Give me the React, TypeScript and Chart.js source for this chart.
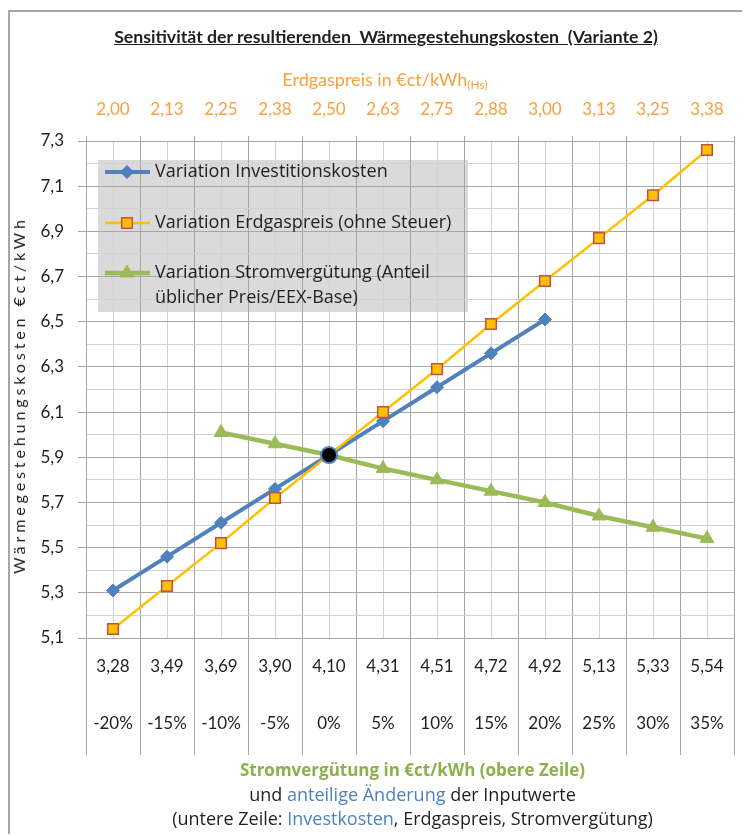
import React, { useEffect, useRef } from 'react';
import { Chart, registerables } from 'chart.js';
import { drawPoint } from 'chart.js/helpers';

Chart.register(...registerables);

// ---------- data ----------
const changeLabels = ['-20%', '-15%', '-10%', '-5%', '0%', '5%', '10%', '15%', '20%', '25%', '30%', '35%'];
const stromLabels = ['3,28', '3,49', '3,69', '3,90', '4,10', '4,31', '4,51', '4,72', '4,92', '5,13', '5,33', '5,54'];
const gasLabels = ['2,00', '2,13', '2,25', '2,38', '2,50', '2,63', '2,75', '2,88', '3,00', '3,13', '3,25', '3,38'];

const investValues: (number | null)[] = [5.31, 5.46, 5.61, 5.76, 5.91, 6.06, 6.21, 6.36, 6.51];
const gasValues: (number | null)[] = [5.14, 5.33, 5.52, 5.72, 5.91, 6.10, 6.29, 6.49, 6.68, 6.87, 7.06, 7.26];
const stromValues: (number | null)[] = [null, null, 6.01, 5.96, 5.91, 5.85, 5.80, 5.75, 5.70, 5.64, 5.59, 5.54];

const baseIndex = 4;
const baseValue = 5.91;

const seriesLabels = [
  'Variation Investitionskosten',
  'Variation Erdgaspreis (ohne Steuer)',
  'Variation Stromvergütung (Anteil\nüblicher Preis/EEX-Base)',
];

const yMin = 5.1;
const yMax = 7.3;

// ---------- helpers ----------
const toPoints = (vals: (number | null)[]) =>
  vals.map((v, i) => ({ x: i, y: v })).filter((p) => p.y !== null) as { x: number; y: number }[];

const isHalf = (v: any) => typeof v === 'number' && Math.abs(v - Math.round(v)) > 0.25;
const isMajorY = (v: any) => typeof v === 'number' && Math.abs(Math.round(v * 10)) % 2 === 1;

const MAJOR = '#a6a6a6';
const MINOR = '#d2d2d2';
const ORANGE = '#F7A23D';
const TEXT = '#1f1f1f';

const legendPlugin = {
  id: 'insideLegend',
  beforeDraw(chart: any) {
    const { ctx, chartArea: a } = chart;
    ctx.save();
    ctx.fillStyle = '#dadada';
    ctx.fillRect(a.left + 12, a.top + 19, 370, 152);
    ctx.restore();
  },
  afterDraw(chart: any) {
    const { ctx, chartArea: a } = chart;
    const rows = [31, 82, 132];
    let r = 0;
    chart.data.datasets.forEach((ds: any) => {
      if (ds.hideInLegend) return;
      const y = a.top + rows[r++];
      ctx.save();
      ctx.strokeStyle = ds.borderColor;
      ctx.lineWidth = ds.borderWidth;
      ctx.beginPath();
      ctx.moveTo(a.left + 19, y);
      ctx.lineTo(a.left + 64, y);
      ctx.stroke();
      ctx.fillStyle = ds.pointBackgroundColor;
      ctx.strokeStyle = ds.pointBorderColor;
      ctx.lineWidth = ds.pointBorderWidth;
      drawPoint(ctx, { pointStyle: ds.pointStyle, radius: ds.pointRadius, borderWidth: ds.pointBorderWidth, rotation: 0 }, a.left + 41, y);
      ctx.fillStyle = TEXT;
      ctx.font = '18px "Open Sans"';
      ctx.textBaseline = 'middle';
      ctx.textAlign = 'left';
      String(ds.label).split('\n').forEach((line: string, i: number) => {
        ctx.fillText(line, a.left + 69, y + i * 25);
      });
      ctx.restore();
    });
  },
};

export default function App() {
  const ref = useRef<HTMLCanvasElement | null>(null);

  useEffect(() => {
    document.body.style.overflow = 'hidden';
    if (!ref.current) return;
    Chart.defaults.font.family = 'Lato';
    const chart = new Chart(ref.current, {
      type: 'line',
      data: {
        datasets: [
          {
            label: 'Basis',
            hideInLegend: true,
            data: [{ x: baseIndex, y: baseValue }],
            showLine: false,
            pointStyle: 'circle',
            pointRadius: 8,
            pointBackgroundColor: '#000000',
            pointBorderColor: '#4F81BD',
            pointBorderWidth: 2,
            order: 0,
          } as any,
          {
            label: seriesLabels[0],
            data: toPoints(investValues),
            borderColor: '#4F81BD',
            borderWidth: 4,
            pointStyle: 'rectRot',
            pointRadius: 6.5,
            pointBackgroundColor: '#4F81BD',
            pointBorderColor: '#4F81BD',
            pointBorderWidth: 1,
            order: 3,
          },
          {
            label: seriesLabels[1],
            data: toPoints(gasValues),
            borderColor: '#FFC000',
            borderWidth: 2.5,
            pointStyle: 'rect',
            pointRadius: 7.5,
            pointBackgroundColor: '#FFC000',
            pointBorderColor: '#C0504D',
            pointBorderWidth: 1.5,
            order: 2,
          },
          {
            label: seriesLabels[2],
            data: toPoints(stromValues),
            borderColor: '#9BBB59',
            borderWidth: 4.5,
            pointStyle: 'triangle',
            pointRadius: 8,
            pointBackgroundColor: '#9BBB59',
            pointBorderColor: '#9BBB59',
            pointBorderWidth: 1,
            order: 1,
          },
        ],
      },
      options: {
        animation: false,
        responsive: false,
        layout: { padding: { left: 0, right: 11, top: 0, bottom: 0 } },
        plugins: { legend: { display: false }, tooltip: { enabled: false } },
        elements: { line: { tension: 0 } },
        scales: {
          x: {
            type: 'linear',
            position: 'bottom',
            min: -0.5,
            max: 11.5,
            afterFit: (s: any) => {
              s.height = 198;
            },
            border: { display: true, color: MAJOR },
            grid: {
              color: (c: any) => (isHalf(c.tick?.value) ? MAJOR : MINOR),
              tickColor: (c: any) => (isHalf(c.tick?.value) ? MAJOR : 'rgba(0,0,0,0)'),
              tickLength: 117,
              lineWidth: 1,
            },
            ticks: {
              stepSize: 0.5,
              autoSkip: false,
              maxRotation: 0,
              minRotation: 0,
              padding: -116.5,
              color: TEXT,
              font: { family: 'Lato', size: 17, lineHeight: '57px' },
              callback: (v: any) => (Number.isInteger(v) ? [stromLabels[v], changeLabels[v]] : ''),
            },
          },
          x2: {
            type: 'linear',
            position: 'top',
            min: -0.5,
            max: 11.5,
            afterFit: (s: any) => {
              s.height = 129;
            },
            border: { display: false },
            grid: {
              drawOnChartArea: false,
              tickLength: 5,
              tickColor: (c: any) => (isHalf(c.tick?.value) ? MAJOR : 'rgba(0,0,0,0)'),
            },
            ticks: {
              stepSize: 0.5,
              autoSkip: false,
              maxRotation: 0,
              minRotation: 0,
              padding: 16,
              color: ORANGE,
              font: { family: 'Lato', size: 17 },
              callback: (v: any) => (Number.isInteger(v) ? gasLabels[v] : ''),
            },
          },
          y: {
            type: 'linear',
            min: yMin,
            max: yMax,
            afterFit: (s: any) => {
              s.width = 76;
            },
            border: { display: true, color: MAJOR },
            grid: {
              color: (c: any) => (isMajorY(c.tick?.value) ? MAJOR : MINOR),
              tickColor: (c: any) => (isMajorY(c.tick?.value) ? MAJOR : 'rgba(0,0,0,0)'),
              tickLength: 8,
            },
            ticks: {
              stepSize: 0.1,
              autoSkip: false,
              padding: 14,
              color: TEXT,
              font: { family: 'Lato', size: 17 },
              callback: (v: any) => (isMajorY(v) ? Number(v).toFixed(1).replace('.', ',') : ''),
            },
          },
        },
      } as any,
      plugins: [legendPlugin],
    });
    return () => chart.destroy();
  }, []);

  const blue = '#4F81BD';
  return (
    <div
      style={{
        position: 'relative',
        top: 2,
        width: 740,
        height: 824,
        borderTop: '2px solid #a6a6a6',
        borderLeft: '2px solid #a6a6a6',
        fontFamily: 'Lato, sans-serif',
        color: TEXT,
      }}
    >
      <canvas ref={ref} width={740} height={824} style={{ display: 'block', width: 740, height: 824 }} />
      <div
        style={{
          position: 'absolute',
          top: 14,
          left: 6,
          width: 740,
          textAlign: 'center',
          fontWeight: 'bold',
          fontSize: 17.7,
          lineHeight: '22px',
          textDecoration: 'underline',
          whiteSpace: 'pre',
        }}
      >
        {'Sensitivität der resultierenden  Wärmegestehungskosten  (Variante 2)'}
      </div>
      <div
        style={{
          position: 'absolute',
          top: 56,
          left: 0,
          width: 750,
          textAlign: 'center',
          fontSize: 18,
          lineHeight: '22px',
          color: ORANGE,
          whiteSpace: 'nowrap',
        }}
      >
        Erdgaspreis in €ct/kWh<span style={{ fontSize: 12, position: 'relative', top: 3 }}>(Hs)</span>
      </div>
      <div
        style={{
          position: 'absolute',
          left: 9,
          top: 383,
          transform: 'translate(-50%, -50%) rotate(-90deg)',
          whiteSpace: 'nowrap',
          fontSize: 16,
          lineHeight: '18px',
          letterSpacing: '3.9px',
        }}
      >
        Wärmegestehungskosten €ct/kWh
      </div>
      <div
        style={{
          position: 'absolute',
          top: 746,
          left: 76,
          width: 653,
          textAlign: 'center',
          fontSize: 18,
          lineHeight: '24px',
          fontFamily: '"Open Sans", sans-serif',
          whiteSpace: 'nowrap',
        }}
      >
        <div style={{ color: '#8DB04A', fontWeight: 'bold', fontSize: 17 }}>Stromvergütung in €ct/kWh (obere Zeile)</div>
        <div>
          und <span style={{ color: blue }}>anteilige Änderung</span> der Inputwerte
        </div>
        <div>
          (untere Zeile: <span style={{ color: blue }}>Investkosten</span>, Erdgaspreis, Stromvergütung)
        </div>
      </div>
    </div>
  );
}
